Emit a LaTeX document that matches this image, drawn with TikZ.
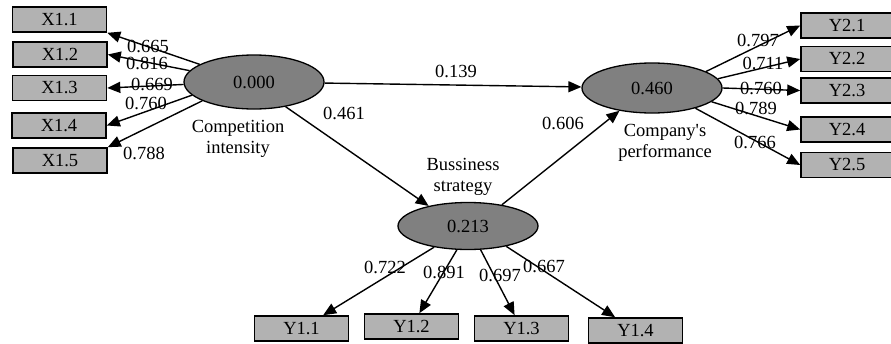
\documentclass[tikz,border=0pt]{standalone}
\usepackage{fontspec}
\setmainfont{Liberation Serif}
\usetikzlibrary{arrows.meta, shapes.geometric}

\definecolor{latentfill}{gray}{0.5}
\definecolor{itemfill}{gray}{0.7}

\begin{document}
\begin{tikzpicture}[x=1pt, y=-1pt,
    every node/.style={font=\fontsize{18.5}{21}\selectfont, inner sep=0pt},
    latent/.style={ellipse, draw, line width=1.3pt, fill=latentfill, minimum width=140pt},
    item/.style={draw, line width=1.6pt, fill=itemfill, minimum width=94pt, minimum height=25pt},
    load/.style={-{Triangle[length=13pt, width=11pt]}, line width=1.4pt}]
    \useasboundingbox (0,0) rectangle (891,343);

    \node[latent, minimum height=54pt] (CI) at (254,82) {0.000};
    \node[latent, minimum height=50pt] (CP) at (652,88) {0.460};
    \node[latent, minimum height=47pt] (BS) at (468,226) {0.213};
    \node[align=center] (CIname) at (238,139) {Competition\\intensity};
    \node[align=center] (CPname) at (665,143) {Company\textquotesingle s\\performance};
    \node[align=center] (BSname) at (463,177) {Bussiness\\strategy};

    \node[item] (X11) at (59.5,19.5) {X1.1};
    \node[item] (X12) at (60,54.5) {X1.2};
    \node[item] (X13) at (59.5,88) {X1.3};
    \node[item] (X14) at (59,125.5) {X1.4};
    \node[item] (X15) at (60,160.5) {X1.5};

    \node[item, minimum width=92pt] (Y21) at (847,25.5) {Y2.1};
    \node[item, minimum width=92pt] (Y22) at (847,59) {Y2.2};
    \node[item, minimum width=92pt] (Y23) at (847,90.5) {Y2.3};
    \node[item, minimum width=92pt] (Y24) at (847,129.5) {Y2.4};
    \node[item, minimum width=92pt] (Y25) at (847,165) {Y2.5};

    \node[item] (Y11) at (301.5,328.5) {Y1.1};
    \node[item] (Y12) at (411.5,326.5) {Y1.2};
    \node[item] (Y13) at (521.5,328.5) {Y1.3};
    \node[item] (Y14) at (635.5,330.5) {Y1.4};

    \draw[load] (CI.162) -- (X11.south east);
    \draw[load] (CI.170) -- (X12.east);
    \draw[load] (CI.182) -- (X13.east);
    \draw[load] (CI.192) -- (X14.east);
    \draw[load] (CI.200) -- (X15.north east);

    \draw[load] (CP.17) -- (Y21.west);
    \draw[load] (CP.8) -- (Y22.west);
    \draw[load] (CP.0) -- (Y23.west);
    \draw[load] (CP.347) -- (Y24.west);
    \draw[load] (CP.335) -- (Y25.west);

    \draw[load] (BS.212) -- (Y11);
    \draw[load] (BS.245) -- (Y12);
    \draw[load] (BS.298) -- (Y13);
    \draw[load] (BS.332) -- (Y14);

    \draw[load] (CI) -- (CP);
    \draw[load] (CI.322) -- (BS.153);
    \draw[load] (BS.32) -- (CP.215);

    \node (wX11) at (148,46) {0.665};
    \node (wX12) at (147,63) {0.816};
    \node (wX13) at (152,84) {0.669};
    \node (wX14) at (146,103) {0.760};
    \node (wX15) at (144,153) {0.788};

    \node (wY21) at (758,40) {0.797};
    \node (wY22) at (763,63) {0.711};
    \node (wY23) at (761,88) {0.760};
    \node (wY24) at (756,108) {0.789};
    \node (wY25) at (755,142) {0.766};

    \node (wY11) at (385,267) {0.722};
    \node (wY12) at (444,272) {0.891};
    \node (wY13) at (500,275) {0.697};
    \node (wY14) at (544,266) {0.667};

    \node (pCICP) at (456,71) {0.139};
    \node (pCIBS) at (344,113) {0.461};
    \node (pBSCP) at (563,123) {0.606};
\end{tikzpicture}
\end{document}
